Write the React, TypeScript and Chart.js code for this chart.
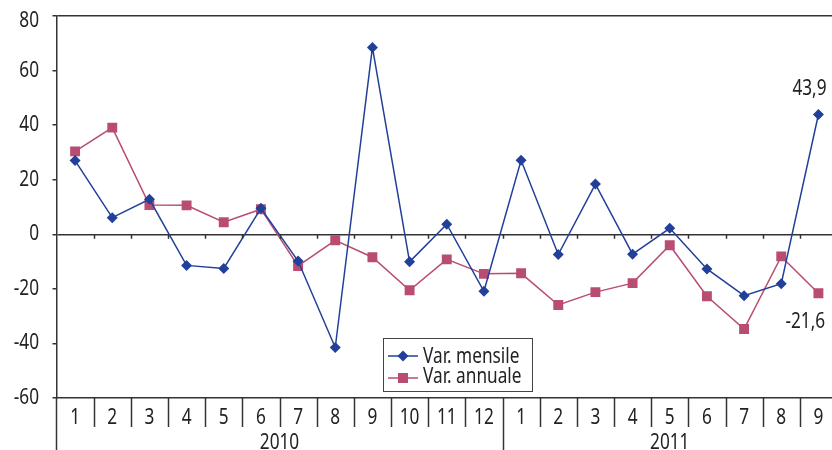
import React, { useEffect, useRef } from "react";
import { Chart, registerables } from "chart.js";

Chart.register(...registerables);

const months: string[] = [
  "1", "2", "3", "4", "5", "6", "7", "8", "9", "10", "11", "12",
  "1", "2", "3", "4", "5", "6", "7", "8", "9",
];
const years: string[] = ["2010", "2011"];
const yearSpans: number[] = [12, 9];

const varMensile: number[] = [
  27.0, 6.1, 12.8, -11.4, -12.5, 9.5, -9.8, -41.5, 68.5, -10.1, 3.7, -20.9,
  27.1, -7.4, 18.4, -7.3, 2.2, -12.7, -22.5, -18.1, 43.9,
];
const varAnnuale: number[] = [
  30.4, 39.1, 10.7, 10.6, 4.4, 9.2, -11.6, -2.2, -8.4, -20.5, -9.2, -14.5,
  -14.3, -25.9, -21.2, -17.9, -4.0, -22.7, -34.7, -8.1, -21.6,
];
const seriesNames: string[] = ["Var. mensile", "Var. annuale"];
const lastLabels: string[] = ["43,9", "-21,6"];

const BLUE = "#22409a";
const PINK = "#b84c72";
const AXIS = "#333333";
const TEXT = "#222222";
const FONT = "21px 'Noto Sans', sans-serif";
const SX = 0.82;

function drawText(
  ctx: CanvasRenderingContext2D,
  s: string,
  x: number,
  y: number,
  align: CanvasTextAlign
) {
  ctx.save();
  ctx.translate(x, y);
  ctx.scale(SX, 1);
  ctx.font = FONT;
  ctx.fillStyle = TEXT;
  ctx.textAlign = align;
  ctx.textBaseline = "middle";
  ctx.fillText(s, 0, 0);
  ctx.restore();
}

const decorPlugin = {
  id: "decor",
  afterDraw(chart: any) {
    const ctx = chart.ctx as CanvasRenderingContext2D;
    const area = chart.chartArea;
    const xs = chart.scales.x;
    const ys = chart.scales.y;
    const n = months.length;
    const w = (area.right - area.left) / n;
    const y0 = ys.getPixelForValue(0);
    ctx.save();
    ctx.strokeStyle = AXIS;
    ctx.lineWidth = 1.5;
    const yearBoundaries: number[] = [];
    let acc = 0;
    for (const s of yearSpans) {
      acc += s;
      yearBoundaries.push(acc);
    }
    for (let i = 1; i <= n; i++) {
      const x = Math.round(area.left + i * w) + 0.5;
      const long = yearBoundaries.includes(i);
      ctx.beginPath();
      ctx.moveTo(x, area.bottom);
      ctx.lineTo(x, long ? chart.height : area.bottom + 29);
      ctx.stroke();
      if (i < n) {
        ctx.beginPath();
        ctx.moveTo(x, y0);
        ctx.lineTo(x, y0 + 4.5);
        ctx.stroke();
      }
    }
    ctx.beginPath();
    ctx.moveTo(area.left, area.bottom);
    ctx.lineTo(area.left, chart.height);
    ctx.stroke();
    ctx.restore();

    // y tick labels
    ys.ticks.forEach((t: any, i: number) => {
      const py = Math.max(ys.getPixelForTick(i), area.top + 5);
      drawText(ctx, String(t.value), 39, py, "right");
    });
    // x tick labels
    months.forEach((m, i) => {
      drawText(ctx, m, xs.getPixelForValue(i), area.bottom + 20, "center");
    });
    // year labels
    let start = 0;
    years.forEach((yr, k) => {
      const end = start + yearSpans[k] - 1;
      const cx = (xs.getPixelForValue(start) + xs.getPixelForValue(end)) / 2;
      drawText(ctx, yr, cx, 443.5, "center");
      start += yearSpans[k];
    });

    // end labels
    const m0 = chart.getDatasetMeta(0).data[n - 1];
    const m1 = chart.getDatasetMeta(1).data[n - 1];
    drawText(ctx, lastLabels[0], m0.x - 26, m0.y - 25, "left");
    drawText(ctx, lastLabels[1], m1.x - 33, m1.y + 29, "left");

    // legend
    ctx.save();
    const lx = 383.5, ly = 338.5, lw = 149, lh = 53;
    ctx.fillStyle = "#ffffff";
    ctx.fillRect(lx, ly, lw, lh);
    ctx.strokeStyle = "#444444";
    ctx.lineWidth = 1;
    ctx.strokeRect(lx, ly, lw, lh);
    const rows = [
      { y: 356, color: BLUE, style: "rectRot", r: 5.5 },
      { y: 378, color: PINK, style: "rect", r: 7 },
    ];
    rows.forEach((row) => {
      ctx.strokeStyle = row.color;
      ctx.lineWidth = 1.5;
      ctx.beginPath();
      ctx.moveTo(388, row.y);
      ctx.lineTo(418, row.y);
      ctx.stroke();
      ctx.fillStyle = row.color;
      ctx.beginPath();
      if (row.style === "rectRot") {
        ctx.moveTo(403, row.y - row.r);
        ctx.lineTo(403 + row.r, row.y);
        ctx.lineTo(403, row.y + row.r);
        ctx.lineTo(403 - row.r, row.y);
        ctx.closePath();
      } else {
        ctx.rect(398, row.y - 5, 10, 10);
      }
      ctx.fill();
    });
    ctx.restore();
    drawText(ctx, seriesNames[0], 423, 357.5, "left");
    drawText(ctx, seriesNames[1], 423, 377.5, "left");
  },
};

export default function App() {
  const ref = useRef<HTMLCanvasElement | null>(null);
  useEffect(() => {
    if (!ref.current) return;
    const chart = new Chart(ref.current, {
      type: "line",
      data: {
        labels: months,
        datasets: [
          {
            label: seriesNames[0],
            data: varMensile,
            borderColor: BLUE,
            backgroundColor: BLUE,
            borderWidth: 1.5,
            pointStyle: "rectRot",
            pointRadius: 5.5,
            pointBorderWidth: 0,
            tension: 0,
          },
          {
            label: seriesNames[1],
            data: varAnnuale,
            borderColor: PINK,
            backgroundColor: PINK,
            borderWidth: 1.5,
            pointStyle: "rect",
            pointRadius: 7,
            pointBorderWidth: 0,
            tension: 0,
          },
        ],
      },
      options: {
        responsive: false,
        animation: false,
        devicePixelRatio: 1,
        layout: { padding: { left: 0, top: 16, right: 1.5, bottom: 0 } },
        plugins: {
          legend: { display: false },
          tooltip: { enabled: false },
        },
        scales: {
          x: {
            type: "category",
            offset: true,
            grid: { display: false },
            border: { display: true, color: AXIS, width: 1.5 },
            ticks: { display: false, autoSkip: false },
            afterFit: (s: any) => {
              s.height = 52;
            },
          },
          y: {
            min: -60,
            max: 80,
            ticks: { stepSize: 20, display: false },
            grid: {
              color: (c: any) =>
                c.tick && (c.tick.value === 0 || c.tick.value === 80)
                  ? AXIS
                  : "rgba(0,0,0,0)",
              tickColor: AXIS,
              tickLength: 4,
              lineWidth: 1.5,
            },
            border: { display: true, color: AXIS, width: 1.5 },
            afterFit: (s: any) => {
              s.width = 56.5;
            },
          },
        },
      },
      plugins: [decorPlugin],
    } as any);
    return () => chart.destroy();
  }, []);
  return (
    <div
      style={{
        position: "fixed",
        left: 0,
        top: 0,
        width: 832,
        height: 450,
        overflow: "hidden",
        background: "#fff",
      }}
    >
      <canvas ref={ref} width={844} height={450} style={{ display: "block" }} />
    </div>
  );
}
